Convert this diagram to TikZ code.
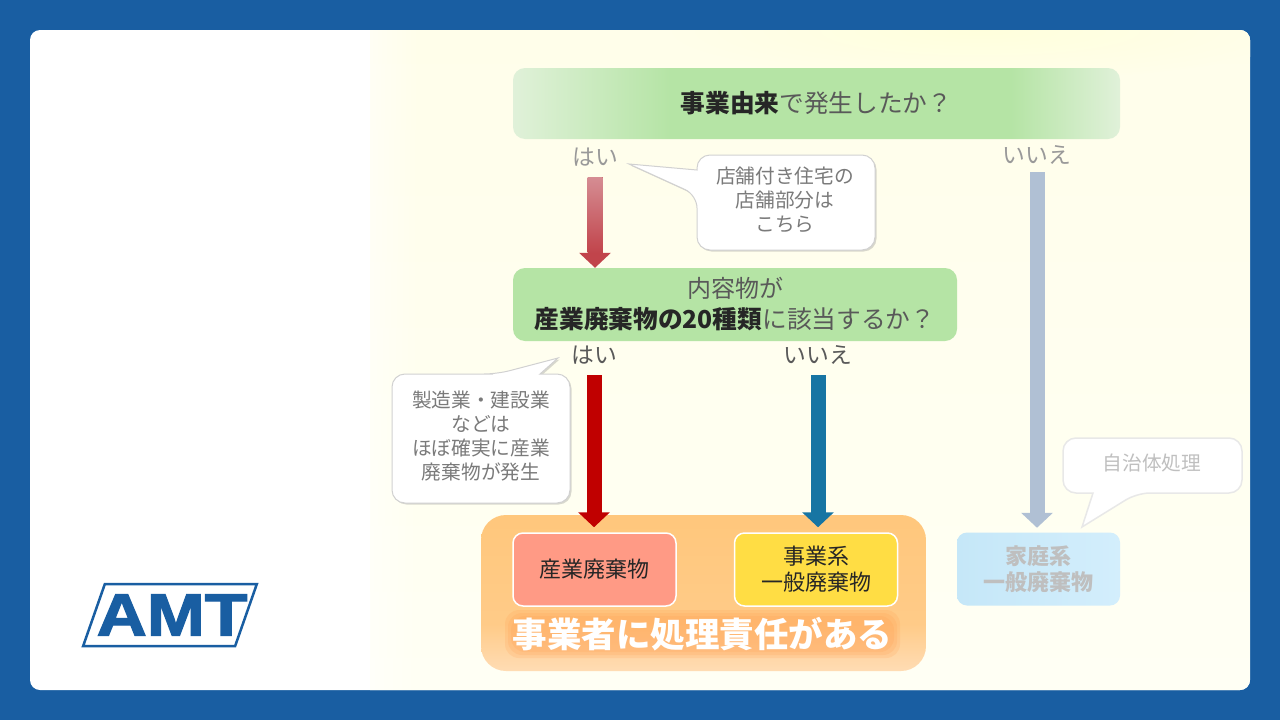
\documentclass[tikz,border=0pt]{standalone}
\usepackage{fontspec}
\setmainfont{Noto Sans CJK JP}
\newfontfamily\logofont[BoldFeatures={FakeBold=2}]{Liberation Sans}
\usetikzlibrary{arrows.meta, shadows, calc, fadings}
\definecolor{frameblue}{HTML}{195EA2}
\definecolor{bandgreen}{HTML}{B5E4A5}
\definecolor{bandpale}{HTML}{E0F1D9}
\definecolor{darktext}{HTML}{595959}
\definecolor{palered}{HTML}{D58D93}
\definecolor{midred}{HTML}{C1444B}
\definecolor{deepred}{HTML}{C00000}
\definecolor{deepblue}{HTML}{1775A3}
\definecolor{fadeblue}{HTML}{B0C0D4}
\definecolor{groupa}{HTML}{FFC77C}
\definecolor{groupb}{HTML}{FFCB88}
\definecolor{groupc}{HTML}{FFDCB4}
\definecolor{wastered}{HTML}{FF9A85}
\definecolor{wasteyellow}{HTML}{FFDD44}
\definecolor{homea}{HTML}{C5E7F8}
\definecolor{homeb}{HTML}{D3EEFC}
\definecolor{glow}{HTML}{FF9A4A}
\definecolor{paneltop}{HTML}{FFFFDC}
\definecolor{panelhigh}{HTML}{FFFEEA}
\definecolor{panelmid}{HTML}{FFFFEA}
\definecolor{panelend}{HTML}{FFFFF4}
\pgfdeclarehorizontalshading{originband}{100bp}{color(0bp)=(bandpale); color(25bp)=(bandpale); color(38bp)=(bandgreen); color(66bp)=(bandgreen); color(75bp)=(bandpale); color(100bp)=(bandpale)}
\pgfdeclareverticalshading{groupband}{100bp}{color(0bp)=(groupc); color(25bp)=(groupc); color(40bp)=(groupb); color(75bp)=(groupa); color(100bp)=(groupa)}
\newcommand{\lift}[2][3pt]{\raisebox{#1}{#2}}
\tikzstyle{question} = [rectangle, 
rounded corners=12pt, 
align=center, 
text=darktext, 
font=\fontsize{24.7}{31}\selectfont]
\tikzstyle{answer} = [minimum height=40pt, 
inner sep=0pt, 
text=darktext, 
font=\fontsize{22.8}{24}\selectfont]
\tikzstyle{waste} = [rectangle, 
rounded corners=10pt, 
minimum width=163pt, 
minimum height=73pt, 
align=center, 
draw=white, 
line width=1.5pt, 
text=black!85, 
font=\fontsize{22}{26}\selectfont]
\tikzstyle{balloon} = [rounded corners=13pt, 
draw=black!18, 
fill=white, 
line width=1pt]
\tikzstyle{balloonshadow} = [drop shadow={shadow xshift=1.5pt, shadow yshift=-1.5pt, opacity=0.3}]
\tikzstyle{balloontext} = [align=center, 
inner sep=0pt, 
text=darktext!80, 
font=\fontsize{19.7}{24}\selectfont]
\tikzstyle{arrow} = [line width=15pt, 
-{Triangle[length=15pt,width=31pt]}]
\begin{document}
\begin{tikzpicture}[x=1pt, y=-1pt]
	\useasboundingbox (0,0) rectangle (1280,720);
	\fill [frameblue] (0,0) rectangle (1280,720);
	\fill [white, rounded corners=10pt] (30,30) rectangle (1250,690);
	\begin{scope}
	\clip [rounded corners=10pt] (30,30) rectangle (1250,690);
	\shade [top color=panelhigh, middle color=panelmid, bottom color=panelend] (370,30) rectangle (1250,690);
	\shade [inner color=paneltop, outer color=panelhigh] (980,30) ellipse (320 and 50);
	\fill [white, fill opacity=0.5, path fading=east] (370,30) rectangle (420,690);
	\end{scope}

	% logo
	\node (logo) [draw=frameblue, line width=2.5pt, minimum width=152pt, minimum height=62pt, xslant=0.35, inner sep=0pt] at (170,615) {};
	\node (logo_text) [text=frameblue, font=\logofont\bfseries\fontsize{60}{60}\selectfont, xscale=1.16, inner sep=0pt] at (172,615) {AMT};

	% questions
	\node (ask_origin) [question, minimum width=607pt, minimum height=71pt, shading=originband] at (816.5,103.5) {\lift{\textbf{\color{black!85}事業由来}で発生したか？}};
	\node (ask_kind) [question, minimum width=444pt, minimum height=73pt, fill=bandgreen] at (735,304.5) {\lift{\fontsize{24}{31}\selectfont 内容物が}\\\lift{\textbf{\color{black!85}産業廃棄物の20種類}に該当するか？}};

	% answers
	\node (yes_origin) [answer, text=black!40] at (595,157) {はい};
	\node (no_origin) [answer, text=black!40, minimum height=34pt] at (1037,155) {いいえ};
	\node (yes_kind) [answer] at (594,355) {はい};
	\node (no_kind) [answer] at (818,355) {いいえ};

	% result boxes
	\node (group_box) [rectangle, rounded corners=25pt, minimum width=445pt, minimum height=156pt, shading=groupband] at (703.5,593) {};
	\node (waste_ind) [waste, fill=wastered] at (594.5,569.5) {\lift{産業廃棄物}};
	\node (waste_biz) [waste, fill=wasteyellow] at (816,569.5) {\lift[2pt]{事業系}\\\lift[2pt]{一般廃棄物}};
	\node (waste_home) [waste, draw=none, left color=homea, right color=homeb, text=black!25, font=\bfseries\fontsize{22}{26}\selectfont] at (1038.5,569) {\lift[2pt]{家庭系}\\\lift[2pt]{一般廃棄物}};
	\foreach \pad in {0,3,6}
		\fill [glow, opacity=0.17, rounded corners=14pt] (511-\pad,616-\pad) rectangle (894+\pad,652+\pad);
	\node (duty_text) [inner sep=0pt, text=white, font=\bfseries\fontsize{34.5}{36}\selectfont] at (702.5,634) {事業者に処理責任がある};

	% arrows
	\draw [arrow, midred] (yes_origin.south) -- (yes_origin |- ask_kind.north);
	\shade [top color=palered, bottom color=midred] ($(yes_origin.south)+(-7.5pt,0)$) rectangle ($(yes_origin |- ask_kind.north)+(7.5pt,15pt)$);
	\draw [arrow, fadeblue, shorten >=4pt] (no_origin.south) -- (no_origin |- waste_home.north);
	\draw [arrow, deepred, shorten >=5pt] (yes_kind.south) -- (yes_kind |- waste_ind.north);
	\draw [arrow, deepblue, shorten >=5pt] (no_kind.south) -- (no_kind |- waste_biz.north);

	% balloons
	\draw [balloon, balloonshadow] (790,155) -- (875,155) -- (875,250) -- (697,250) -- (697,195) [sharp corners] -- (629,164) -- (697,170) [rounded corners=13pt] -- (697,155) -- cycle;
	\node (note_shop) [balloontext] at (785,200) {店舗付き住宅の\\店舗部分は\\こちら};
	\draw [balloon, balloonshadow] (480,374) -- (497,374) [sharp corners] -- (558,358) -- (540,374) [rounded corners=13pt] -- (570,374) -- (570,503) -- (392,503) -- (392,374) -- cycle;
	\node (note_factory) [balloontext] at (481,436) {製造業・建設業\\などは\\ほぼ確実に産業\\廃棄物が発生};
	\draw [balloon, draw=black!9, line width=1.5pt] (1150,438) -- (1242,438) -- (1242,493) -- (1137,493) [sharp corners] -- (1082,527) -- (1093,493) [rounded corners=13pt] -- (1063,493) -- (1063,438) -- cycle;
	\node (note_city) [balloontext, text=black!25] at (1152,463) {自治体処理};
\end{tikzpicture}
\end{document}
